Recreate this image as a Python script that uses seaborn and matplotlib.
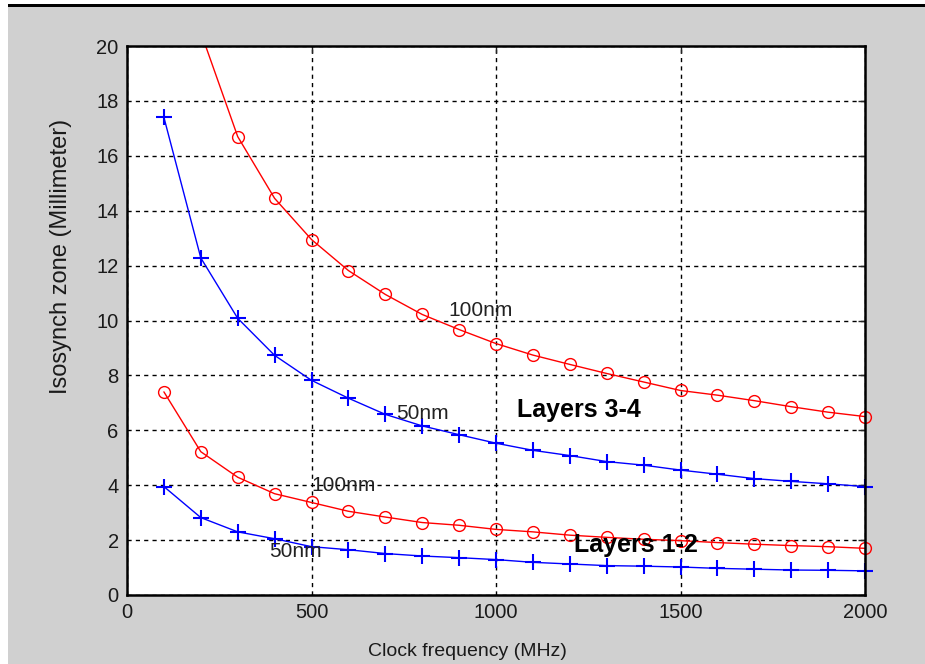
import numpy as np
import pandas as pd
import seaborn as sns
import matplotlib.pyplot as plt
from matplotlib.patches import Rectangle

# Clock frequency (MHz)
freq = [100, 200, 300, 400, 500, 600, 700, 800, 900, 1000,
        1100, 1200, 1300, 1400, 1500, 1600, 1700, 1800, 1900, 2000]

# Isosynch zone (mm)
l34_100nm = [28.9, 20.5, 16.7, 14.45, 12.95, 11.82, 10.95, 10.22, 9.67, 9.16,
             8.74, 8.4, 8.07, 7.76, 7.45, 7.28, 7.08, 6.86, 6.66, 6.5]
l34_50nm = [17.4, 12.28, 10.08, 8.73, 7.82, 7.17, 6.58, 6.16, 5.84, 5.53,
            5.27, 5.08, 4.86, 4.73, 4.55, 4.4, 4.24, 4.14, 4.05, 3.95]
l12_100nm = [7.4, 5.22, 4.29, 3.69, 3.37, 3.05, 2.84, 2.64, 2.54, 2.39,
             2.3, 2.18, 2.1, 2.03, 1.98, 1.91, 1.85, 1.8, 1.76, 1.7]
l12_50nm = [3.95, 2.82, 2.3, 2.05, 1.76, 1.65, 1.51, 1.42, 1.36, 1.29,
            1.19, 1.13, 1.07, 1.05, 1.02, 0.97, 0.94, 0.91, 0.9, 0.88]

x_ticks = [0, 500, 1000, 1500, 2000]
y_ticks = [0, 2, 4, 6, 8, 10, 12, 14, 16, 18, 20]

df = pd.DataFrame({
    'freq': freq * 4,
    'zone': l34_100nm + l34_50nm + l12_100nm + l12_50nm,
    'series': (['l34_100'] * 20 + ['l34_50'] * 20 +
               ['l12_100'] * 20 + ['l12_50'] * 20),
})

sns.set_theme(style='white')
plt.rcParams['font.family'] = ['Liberation Sans', 'DejaVu Sans']

fig = plt.figure(figsize=(9.25, 6.64), dpi=100)
fig.patch.set_facecolor('white')
# gray MATLAB-like figure area with a black rule on top
fig.patches.append(Rectangle((8 / 925, 0), 1, 657 / 664, transform=fig.transFigure,
                             facecolor='#d0d0d0', edgecolor='none', zorder=-10))
fig.patches.append(Rectangle((8 / 925, 657 / 664), 1, 2.5 / 664, transform=fig.transFigure,
                             facecolor='black', edgecolor='none', zorder=-9))

ax = fig.add_axes([127 / 925, 69 / 664, 738 / 925, 549 / 664])
ax.set_facecolor('white')

styles = {
    'l34_100': dict(color='red', marker='o', mfc='none', mec='red', ms=8.5),
    'l34_50': dict(color='blue', marker='+', mec='blue', ms=11, mew=1.5),
    'l12_100': dict(color='red', marker='o', mfc='none', mec='red', ms=8.5),
    'l12_50': dict(color='blue', marker='+', mec='blue', ms=11, mew=1.5),
}
for name, st in styles.items():
    sub = df[df['series'] == name]
    sns.lineplot(data=sub, x='freq', y='zone', ax=ax, linewidth=1,
                 markeredgewidth=st.pop('mew', 1.0), **st)

# let the end markers at 2000 MHz show in full, but keep the top clipped
for ln in ax.lines:
    ln.set_clip_path(Rectangle((-0.02, 0), 1.04, 1, transform=ax.transAxes))

ax.set_xlim(0, 2000)
ax.set_ylim(0, 20)
ax.set_xticks(x_ticks)
ax.set_yticks(y_ticks)
ax.grid(True, color='black', linestyle=(0, (3, 3)), linewidth=1)
for s in ax.spines.values():
    s.set_color('black')
    s.set_linewidth(1.8)
ax.tick_params(direction='in', length=5, width=1, labelsize=14.5,
               labelcolor='#1a1a1a', top=True, right=True, pad=6)

ax.set_xlabel('Clock frequency (MHz)', fontsize=14, color='#1a1a1a')
ax.set_ylabel('Isosynch zone (Millimeter)', fontsize=17, color='#1a1a1a')
ax.xaxis.set_label_coords(0.461, -0.087)
ax.yaxis.set_label_coords(-0.075, 0.617)

ax.text(870, 10.38, '100nm', fontsize=15, color='#222222', va='center')
ax.text(729, 6.6, '50nm', fontsize=15, color='#222222', va='center')
ax.text(501, 4.0, '100nm', fontsize=15, color='#222222', va='center')
ax.text(385, 1.58, '50nm', fontsize=15, color='#222222', va='center')
ax.text(1057, 6.74, 'Layers 3-4', fontsize=18, fontweight='bold', color='black', va='center')
ax.text(1211, 1.82, 'Layers 1-2', fontsize=18, fontweight='bold', color='black', va='center')

fig.savefig('out.png', dpi=100)
